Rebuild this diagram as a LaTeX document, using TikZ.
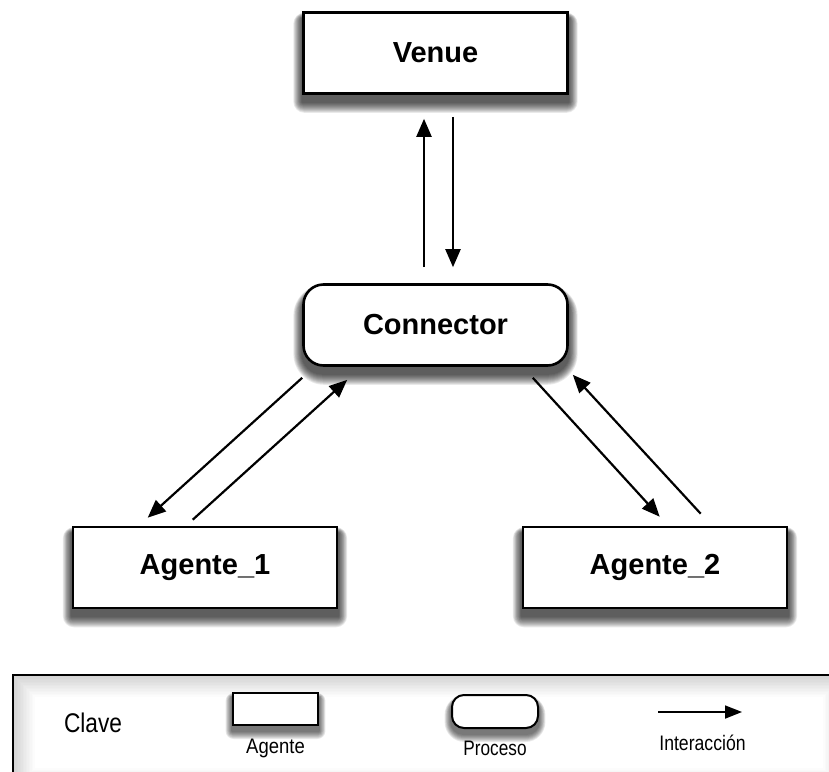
\documentclass[tikz,border=0pt]{standalone}
\usepackage{fontspec}
\usepackage{graphicx}
\setmainfont{Liberation Sans}
\usetikzlibrary{arrows.meta}

\pgfdeclarelayer{panel}
\pgfdeclarelayer{shade}
\pgfsetlayers{panel,shade,main}

\tikzset{
  agentbox/.style={draw=black, line width=2.6pt, fill=white,
      minimum width=264pt, minimum height=81pt, inner sep=0pt,
      font=\fontsize{29}{34}\selectfont\bfseries},
  procbox/.style={agentbox, rounded corners=20pt},
  link/.style={line width=2.2pt, -{Triangle[length=18pt,width=15pt]}},
  keylabel/.style={font=\fontsize{21}{25}\selectfont, inner sep=0pt},
  keyframe/.style={draw=black, line width=2pt, fill=white, inner sep=0pt},
}

% soft drop shadow behind a node: #1 corner radius, #2 node name, #3 drop, #4 spread steps
\newcommand{\castshadow}[4]{%
  \begin{pgfonlayer}{shade}
  \foreach \k in {1,...,#4}{
    \pgfmathsetmacro{\rr}{#1+\k}
    \fill[black, opacity=0.085, rounded corners=\rr pt]
      ([xshift=-0.8*\k pt, yshift=-#3pt-\k pt]#2.south west) rectangle
      ([xshift=0.8*\k pt, yshift=-#3pt+0.5*\k pt]#2.north east);
  }
  \end{pgfonlayer}}

\begin{document}
\begin{tikzpicture}[x=1pt, y=-1pt]
\useasboundingbox (0,0) rectangle (829,771);
\clip (0,0) rectangle (829,771);

% main nodes
\node[agentbox] (venue) at (435.5,53) {Venue};
\node[procbox] (conn) at (435.5,325) {Connector};
\node[agentbox] (ag1) at (205,567.5) {Agente\_1};
\node[agentbox] (ag2) at (655,567.5) {Agente\_2};
\castshadow{0}{venue}{7}{11}
\castshadow{20}{conn}{7}{11}
\castshadow{0}{ag1}{7}{11}
\castshadow{0}{ag2}{7}{11}

% Connector <-> Venue
\draw[link] ([xshift=-11.5pt, yshift=16pt]conn.north) -- ([xshift=-11.5pt, yshift=-24pt]venue.south);
\draw[link] ([xshift=17.5pt, yshift=-22pt]venue.south) -- ([xshift=17.5pt, yshift=16pt]conn.north);

% Connector <-> Agente_1
\draw[link] ([yshift=-11pt]conn.south west) -- ([xshift=76pt, yshift=8pt]ag1.north west);
\draw[link] ([xshift=121pt, yshift=6pt]ag1.north west) -- ([xshift=45pt, yshift=-13pt]conn.south west);

% Connector <-> Agente_2
\draw[link] ([xshift=-36pt, yshift=-11pt]conn.south east) -- ([xshift=138pt, yshift=9pt]ag2.north west);
\draw[link] ([xshift=179pt, yshift=12pt]ag2.north west) -- ([xshift=4pt, yshift=-8pt]conn.south east);

% key panel with inner shading
\begin{pgfonlayer}{panel}
\fill[white] (13,675) rectangle (845,790);
\foreach \i in {1,...,14}{
  \draw[black, opacity=0.012*(15-\i), line width=1.6pt]
    (13+1.5*\i,675+1.5*\i) rectangle (845-1.5*\i,790-1.5*\i);
}
\draw[line width=2pt] (845,675) -- (13,675) -- (13,790);
\end{pgfonlayer}

\node[keylabel, font=\fontsize{27}{32}\selectfont] (clave) at (93,723) {\scalebox{0.84}[1]{Clave}};

\node[keyframe, minimum width=85pt, minimum height=32pt] (keyagent) at (275.5,709) {};
\castshadow{0}{keyagent}{5}{8}
\node[keylabel] (keyagentlbl) at (275.5,748) {\scalebox{0.88}[1]{Agente}};

\node[keyframe, rounded corners=12pt, minimum width=86pt, minimum height=33pt] (keyproc) at (495,711.5) {};
\castshadow{12}{keyproc}{5}{8}
\node[keylabel] (keyproclbl) at (495,748) {\scalebox{0.82}[1]{Proceso}};

\coordinate (keyarrowstart) at (658,712);
\coordinate (keyarrowend) at (742,712);
\draw[line width=1.8pt, -{Triangle[length=17pt,width=13pt]}] (keyarrowstart) -- (keyarrowend);
\node[keylabel] (keyarrowlbl) at (702.5,743) {\scalebox{0.84}[1]{Interacción}};
\end{tikzpicture}
\end{document}
